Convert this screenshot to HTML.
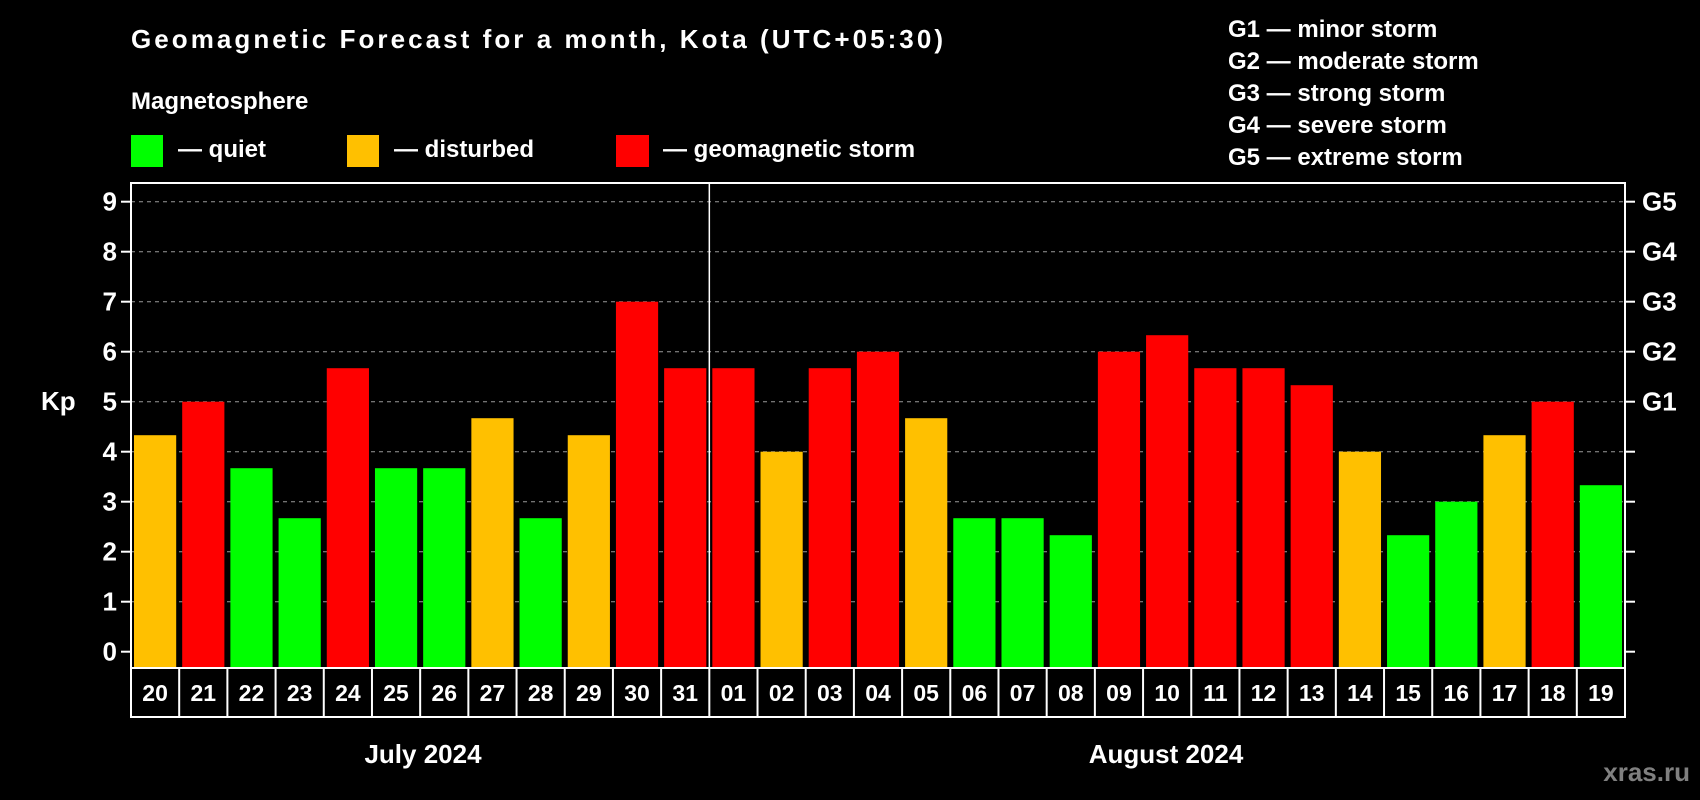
<!DOCTYPE html>
<html><head><meta charset="utf-8"><style>
html,body{margin:0;padding:0;background:#000;}
svg{display:block;font-family:"Liberation Sans",Arial,sans-serif;font-weight:bold;}
</style></head><body>
<svg id="chart" width="1700" height="800" viewBox="0 0 1700 800">
<rect x="0" y="0" width="1700" height="800" fill="#000"/>
<text x="131" y="48" font-size="26" fill="#fff" textLength="812">Geomagnetic Forecast for a month, Kota (UTC+05:30)</text>
<text x="131" y="109" font-size="24" fill="#fff">Magnetosphere</text>
<g><rect x="131" y="135" width="32" height="32" fill="#00ff00"/><text x="178" y="157" font-size="24" fill="#fff">— quiet</text></g>
<g><rect x="347" y="135" width="32" height="32" fill="#ffc000"/><text x="394" y="157" font-size="24" fill="#fff">— disturbed</text></g>
<g><rect x="616" y="135" width="33" height="32" fill="#ff0000"/><text x="663" y="157" font-size="24" fill="#fff">— geomagnetic storm</text></g>
<g font-size="24" fill="#fff">
<text x="1228" y="37">G1 — minor storm</text>
<text x="1228" y="69">G2 — moderate storm</text>
<text x="1228" y="101">G3 — strong storm</text>
<text x="1228" y="133">G4 — severe storm</text>
<text x="1228" y="165">G5 — extreme storm</text>
</g>
<g id="grid"></g>
<g id="bars"></g>
<g id="axes"></g>
<text x="41" y="410" font-size="26" fill="#fff">Kp</text>
<text x="423" y="763" font-size="26" fill="#fff" text-anchor="middle">July 2024</text>
<text x="1166" y="763" font-size="26" fill="#fff" text-anchor="middle">August 2024</text>
<text x="1690" y="781" font-size="26" fill="#808080" text-anchor="end">xras.ru</text>
</svg>
<script>
const days = ["20","21","22","23","24","25","26","27","28","29","30","31","01","02","03","04","05","06","07","08","09","10","11","12","13","14","15","16","17","18","19"];
const kpValues = [4.33,5,3.67,2.67,5.67,3.67,3.67,4.67,2.67,4.33,7,5.67,5.67,4,5.67,6,4.67,2.67,2.67,2.33,6,6.33,5.67,5.67,5.33,4,2.33,3,4.33,5,3.33];
const yTicks = [0,1,2,3,4,5,6,7,8,9];
const gLabels = ["","","","","","G1","G2","G3","G4","G5"];
const monthSplitIndex = 12;

const NS = "http://www.w3.org/2000/svg";
const L = 131, R = 1625, T = 183, B = 668, LB = 717;
const cellW = (R - L) / days.length;
function xScale(i){ return L + i * cellW; }
function yScale(v){ return 651.7 - v * 50; }
function mk(tag, attrs, parent){ const e = document.createElementNS(NS, tag); for (const k in attrs) e.setAttribute(k, attrs[k]); parent.appendChild(e); return e; }
function colorFor(v){ return v < 4 ? "#00ff00" : (v < 5 ? "#ffc000" : "#ff0000"); }

const grid = document.getElementById("grid"), bars = document.getElementById("bars"), axes = document.getElementById("axes");
yTicks.forEach((t, i) => {
  const y = yScale(t);
  if (t > 0) {
    const g = mk("line", {x1: L, x2: R, y1: y, y2: y, stroke: "#999", "stroke-width": 1, "stroke-dasharray": "4,4"}, grid);
    
    
  }
  const tk = mk("line", {x1: L - 10, x2: L, y1: y, y2: y, stroke: "#fff", "stroke-width": 2}, axes);
  
  
  const tk2 = mk("line", {x1: R, x2: R + 10, y1: y, y2: y, stroke: "#fff", "stroke-width": 2}, axes);
  
  
  const lb = mk("text", {x: L - 14, y: y + 9, "font-size": 26, fill: "#fff", "text-anchor": "end"}, axes);
  lb.textContent = t;
  
  
  if (gLabels[i]) {
    const gl = mk("text", {x: R + 17, y: y + 9, "font-size": 26, fill: "#fff"}, axes);
    gl.textContent = gLabels[i];
    
    
  }
});
kpValues.forEach((v, i) => {
  const x = xScale(i) + 3, y = yScale(v);
  const b = mk("rect", {x: x, y: y, width: cellW - 6, height: B - y, fill: colorFor(v)}, bars);
  
  
});
const frame = mk("rect", {x: L, y: T, width: R - L, height: LB - T, fill: "none", stroke: "#fff", "stroke-width": 2}, axes);


const bl = mk("line", {x1: L, x2: R, y1: B, y2: B, stroke: "#fff", "stroke-width": 2}, axes);


const sp = mk("line", {x1: xScale(monthSplitIndex), x2: xScale(monthSplitIndex), y1: T, y2: B, stroke: "#fff", "stroke-width": 1.5}, axes);


days.forEach((d, i) => {
  if (i > 0) {
    const c = mk("line", {x1: xScale(i), x2: xScale(i), y1: B, y2: LB, stroke: "#fff", "stroke-width": 2}, axes);
    
    
  }
  const t = mk("text", {x: xScale(i) + cellW / 2, y: B + 33, "font-size": 23, fill: "#fff", "text-anchor": "middle"}, axes);
  t.textContent = d;
  
  
});
</script>
</body></html>
